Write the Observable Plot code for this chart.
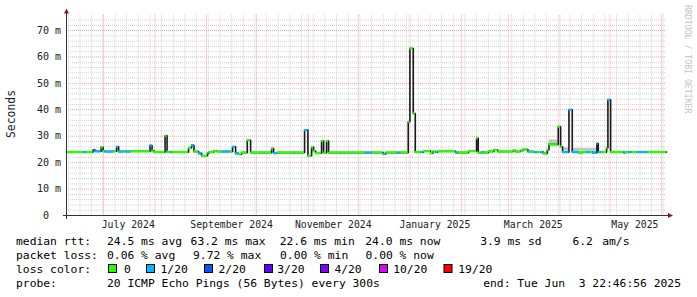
<!DOCTYPE html>
<html><head><meta charset="utf-8">
<script src="https://cdn.jsdelivr.net/npm/d3@7"></script>
<script src="https://cdn.jsdelivr.net/npm/@observablehq/plot@0.6"></script>
<style>body{margin:0;background:#fff} svg{display:block}</style>
</head><body><div id="chart"></div>
<script>
const startTime = "2024-06-08T22:46:56Z";
const endTime = "2025-06-03T22:46:56Z";

// median rtt segments: start time, median (ms), loss class index
const segStart = [
"2024-06-08T22:46:56Z","2024-06-19T05:00Z","2024-06-20T17:00Z","2024-06-24T22:00Z","2024-06-26T10:00Z",
"2024-06-29T17:00Z","2024-06-30T22:00Z","2024-07-02T02:00Z","2024-07-07T05:00Z","2024-07-09T00:00Z",
"2024-07-10T05:00Z","2024-07-13T05:00Z","2024-07-14T10:00Z","2024-07-17T10:00Z","2024-07-29T02:00Z",
"2024-07-30T07:00Z","2024-07-31T12:00Z","2024-08-07T02:00Z","2024-08-08T07:00Z","2024-08-10T10:00Z",
"2024-08-11T10:00Z","2024-08-21T05:00Z","2024-08-23T00:00Z","2024-08-24T10:00Z","2024-08-27T05:00Z",
"2024-08-29T00:00Z","2024-09-01T14:00Z","2024-09-02T12:00Z","2024-09-05T10:00Z","2024-09-07T10:00Z",
"2024-09-10T10:00Z","2024-09-15T10:00Z","2024-09-16T14:00Z","2024-09-18T10:00Z","2024-09-20T05:00Z",
"2024-09-22T00:00Z","2024-09-25T10:00Z","2024-09-27T10:00Z","2024-10-10T00:00Z","2024-10-11T05:00Z",
"2024-10-13T14:00Z","2024-10-29T19:00Z","2024-10-31T19:00Z","2024-11-03T00:00Z","2024-11-04T05:00Z",
"2024-11-05T10:00Z","2024-11-09T00:00Z","2024-11-10T05:00Z","2024-11-12T00:00Z","2024-11-13T05:00Z",
"2024-12-05T10:00Z","2024-12-09T10:00Z","2024-12-16T00:00Z","2024-12-17T14:00Z","2024-12-24T10:00Z",
"2024-12-26T10:00Z","2024-12-31T00:00Z","2025-01-01T00:00Z","2025-01-03T00:00Z","2025-01-04T05:00Z",
"2025-01-07T17:00Z","2025-01-09T05:00Z","2025-01-13T10:00Z","2025-01-14T19:00Z","2025-01-16T10:00Z",
"2025-01-17T19:00Z","2025-01-28T10:00Z","2025-01-30T00:00Z","2025-02-05T05:00Z","2025-02-10T00:00Z",
"2025-02-11T00:00Z","2025-02-13T10:00Z","2025-02-14T10:00Z","2025-02-17T05:00Z","2025-02-18T10:00Z",
"2025-02-20T10:00Z","2025-02-22T19:00Z","2025-03-04T00:00Z","2025-03-05T10:00Z","2025-03-08T10:00Z",
"2025-03-10T00:00Z","2025-03-12T19:00Z","2025-03-14T10:00Z","2025-03-16T05:00Z","2025-03-18T10:00Z",
"2025-03-20T10:00Z","2025-03-22T00:00Z","2025-03-24T10:00Z","2025-03-25T10:00Z","2025-03-31T00:00Z",
"2025-04-01T10:00Z","2025-04-02T14:00Z","2025-04-06T10:00Z","2025-04-08T10:00Z","2025-04-12T05:00Z",
"2025-04-14T14:00Z","2025-04-17T00:00Z","2025-04-19T10:00Z","2025-04-20T14:00Z","2025-04-23T05:00Z",
"2025-04-24T00:00Z","2025-04-26T00:00Z","2025-04-29T00:00Z","2025-04-29T19:00Z","2025-05-01T10:00Z",
"2025-05-09T10:00Z","2025-05-10T10:00Z","2025-05-12T10:00Z","2025-05-14T10:00Z","2025-05-17T10:00Z",
"2025-05-23T10:00Z"];
const segMedian = [
24.0,24.0,24.0,24.7,24.3, 25.8,24.3,24.2,24.3,26.0, 24.2,24.3,24.2,24.3,26.5,
24.5,24.0,30.2,24.1,24.0, 24.0,25.6,26.6,24.2,23.5, 22.6,23.6,24.0,24.4,24.2,
24.2,24.2,26.0,23.5,23.2, 23.8,28.5,23.8,25.3,23.6, 23.8,32.3,22.6,25.8,24.4,
23.6,28.2,23.8,28.2,23.8, 23.8,23.8,23.3,23.8,23.8, 23.8,35.5,63.2,38.6,24.0,
24.0,24.4,23.6,24.2,24.0, 24.3,23.8,23.8,24.4,29.2, 23.8,24.0,23.8,24.4,24.2,
24.8,24.2,24.6,24.2,24.6, 25.0,24.2,24.2,24.0,24.0, 24.0,23.5,24.8,26.9,33.6,
26.0,24.0,40.0,24.0,23.8, 24.0,24.0,24.0,23.8,27.2, 24.0,24.0,25.6,43.8,24.0,
23.8,24.0,24.0,24.0,24.0, 24.0];
const segLoss = [
0,1,0,2,1, 0,0,1,0,1, 1,0,1,0,1,
0,0,0,0,1, 0,0,1,0,1, 0,1,0,0,0,
1,0,1,1,0, 0,0,0,0,1, 0,1,0,0,0,
0,0,0,0,0, 1,0,1,0,1, 0,0,0,0,0,
1,0,0,0,1, 0,1,0,0,0, 0,1,0,0,0,
0,0,0,0,0, 0,1,0,1,0, 1,0,0,0,0,
0,1,1,1,0, 0,1,0,1,1, 1,0,0,1,0,
1,0,1,0,1, 0];

// smoke (spread of pings)
const smokeStart = ["2025-03-25T10:00Z","2025-04-02T14:00Z","2025-04-08T10:00Z"];
const smokeEnd   = ["2025-03-31T00:00Z","2025-04-06T10:00Z","2025-04-23T05:00Z"];
const smokeLow   = [26.9, 24.3, 24.3];
const smokeHigh  = [28.6, 25.6, 25.4];

const lossLabels = ["0","1/20","2/20","3/20","4/20","10/20","19/20"];
const lossColors = ["#26ff00","#00b8ff","#0059ff","#5e00ff","#7e00ff","#dd00ff","#ff0000"];

const yTicks = [0,10,20,30,40,50,60,70];
const yTickLabels = ["0\u00a0\u00a0","10 m","20 m","30 m","40 m","50 m","60 m","70 m"];
const monthLabels = ["July 2024","September 2024","November 2024","January 2025","March 2025","May 2025"];
const monthLabelDates = ["2024-07-16","2024-09-16","2024-11-16","2025-01-16","2025-03-16","2025-05-16"];

const yMax = 75.84;
const t0 = new Date(startTime), t1 = new Date(endTime);
const idx = d3.range(segStart.length);
const segDate = segStart.map(s => new Date(s));
const linePts = idx.map(i => ({t: segDate[i], v: segMedian[i]})).concat([{t: t1, v: segMedian[segMedian.length-1]}]);

const minorY = d3.range(2, 76, 2).filter(v => v % 10 !== 0);
const majorY = d3.range(10, 76, 10);
const weeks = d3.utcMonday.range(t0, t1);
const months = d3.utcMonth.range(t0, t1);

const font = "'DejaVu Sans Mono', monospace";
const gridMinor = "#d2d2d2", gridMajor = "#f0a4a4";

const chart = Plot.plot({
  width: 697, height: 297,
  marginLeft: 66, marginRight: 31, marginTop: 14.6, marginBottom: 82,
  x: {type: "utc", domain: [t0, t1], axis: null},
  y: {domain: [0, yMax], axis: null},
  color: {type: "identity"},
  style: {fontFamily: font, fontSize: "10px", background: "#fff", color: "#000", overflow: "visible"},
  marks: [
    Plot.ruleY(minorY, {stroke: gridMinor, strokeDasharray: "1,1"}),
    Plot.ruleX(weeks, {stroke: gridMinor, strokeDasharray: "1,1"}),
    Plot.ruleY(majorY, {stroke: gridMajor, strokeDasharray: "1,1"}),
    Plot.ruleX(months, {stroke: gridMajor, strokeDasharray: "1,1"}),
    Plot.rect(d3.range(smokeStart.length), {
      x1: i => new Date(smokeStart[i]), x2: i => new Date(smokeEnd[i]),
      y1: i => smokeLow[i], y2: i => smokeHigh[i], fill: "#c4c4c4"}),
    Plot.line(linePts, {x: "t", y: "v", curve: "step-after", stroke: "#1a1a1a", strokeWidth: 1.6}),
    Plot.ruleY(idx, {
      x1: i => segDate[i], x2: i => (i + 1 < segDate.length ? segDate[i + 1] : t1),
      y: i => segMedian[i], stroke: i => lossColors[segLoss[i]], strokeWidth: 2.4}),
    Plot.text(yTicks, {x: t0, y: d => d, text: (d, i) => yTickLabels[i], textAnchor: "end", dx: -5.5, fill: "#222"}),
    Plot.text(monthLabelDates, {x: d => new Date(d), y: 0, text: (d, i) => monthLabels[i], lineAnchor: "top", dy: 6, fill: "#222", fontSize: 9.8})
  ]
});

const svg = d3.select(chart);
const X = chart.scale("x"), Y = chart.scale("y");
const x0 = X.apply(t0), xe = X.apply(t1), y0 = Y.apply(0), yt = Y.apply(yMax);
// axes
svg.append("line").attr("x1", x0 - 3).attr("x2", xe + 3).attr("y1", y0 + 0.5).attr("y2", y0 + 0.5).attr("stroke", "#333");
svg.append("line").attr("x1", x0 + 0.5).attr("x2", x0 + 0.5).attr("y1", y0 + 4).attr("y2", yt - 2).attr("stroke", "#333");
svg.append("path").attr("d", `M${x0 - 2},${yt - 1}L${x0 + 3},${yt - 1}L${x0 + 0.5},${yt - 6}Z`).attr("fill", "#9a1010");
svg.append("path").attr("d", `M${xe + 2},${y0 - 2}L${xe + 2},${y0 + 3}L${xe + 7},${y0 + 0.5}Z`).attr("fill", "#9a1010");

// axis title and watermark
svg.append("text").attr("transform", "translate(15,114) rotate(-90)").attr("text-anchor", "middle")
  .attr("font-family", font).attr("font-size", 11.4).attr("fill", "#222").text("Seconds");
svg.append("text").attr("transform", "translate(685,5) rotate(90)").attr("text-anchor", "start")
  .attr("font-family", font).attr("font-size", 8.2).attr("fill", "#c4c4c4").text("RRDTOOL / TOBI OETIKER");

// legend
const legendRows = [
  [[16, "median rtt:"], [107, "24.5 ms avg"], [190.6, "63.2 ms max"], [279.7, "22.6 ms min"], [365.3, "24.0 ms now"], [480.2, "3.9 ms sd"], [572.4, "6.2"], [602.2, "am/s"]],
  [[16, "packet loss:"], [107, "0.06 % avg"], [193, "9.72 % max"], [280, "0.00 % min"], [365.5, "0.00 % now"]],
  [[16, "loss color:"]],
  [[16, "probe:"], [107, "20 ICMP Echo Pings (56 Bytes) every 300s"]]
];
const rowBase = [245, 259, 273, 287];
const g = svg.append("g").attr("font-family", font).attr("font-size", 11.33).attr("fill", "#000").attr("text-anchor", "start");
legendRows.forEach((row, r) => row.forEach(([x, t]) => {
  g.append("text").attr("x", x).attr("y", rowBase[r]).attr("xml:space", "preserve").text(t);
}));
const swatchX = [108, 146, 204, 264, 320, 379, 443.5];
const swatchLabelX = [124, 160.5, 218.5, 277.3, 334.4, 393.2, 458.3];
lossLabels.forEach((l, i) => {
  g.append("rect").attr("x", swatchX[i] + 0.5).attr("y", rowBase[2] - 8.5).attr("width", 8).attr("height", 8)
    .attr("fill", lossColors[i]).attr("stroke", "#000");
  g.append("text").attr("x", swatchLabelX[i]).attr("y", rowBase[2]).text(l);
});
g.append("text").attr("x", 681).attr("y", rowBase[3]).attr("text-anchor", "end").attr("xml:space", "preserve")
  .text("end: Tue Jun  3 22:46:56 2025");

document.getElementById("chart").appendChild(chart);
</script>
</body></html>
